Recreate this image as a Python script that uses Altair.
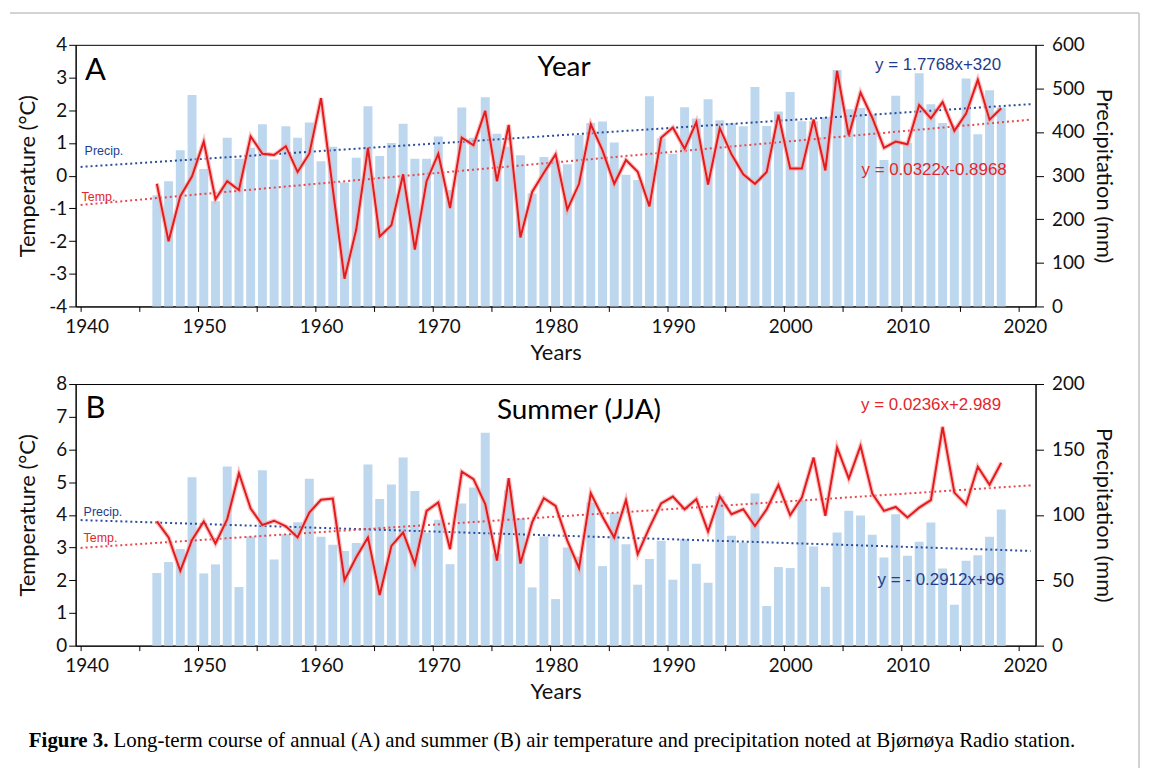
import altair as alt
import pandas as pd

# ---------------- data ----------------
years = list(range(1946, 2019))

precip_annual = [255, 287, 358, 485,
                 315, 241, 387, 339, 364, 418, 337, 413, 387, 422,
                 333, 366, 284, 341, 459, 345, 375, 419, 339, 339,
                 390, 267, 456, 387, 480, 396, 366, 347, 259, 343,
                 335, 326, 393, 421, 424, 376, 302, 290, 482, 386,
                 350, 457, 431, 475, 427, 420, 413, 503, 414, 447,
                 492, 425, 425, 434, 542, 452, 455, 441, 336, 483,
                 375, 535, 464, 421, 410, 523, 395, 496, 456]

temp_annual = [-0.25, -2.01, -0.63, -0.02,
               1.04, -0.72, -0.17, -0.44, 1.20, 0.67, 0.63, 0.90, 0.11, 0.67,
               2.37, -0.40, -3.15, -1.65, 0.85, -1.86, -1.52, 0.04, -2.26, -0.17,
               0.67, -0.99, 1.16, 0.93, 1.98, -0.17, 1.55, -1.89, -0.50, 0.09,
               0.65, -1.04, -0.25, 1.57, 0.77, -0.25, 0.48, 0.12, -0.94, 1.16,
               1.47, 0.82, 1.64, -0.27, 1.45, 0.65, 0.04, -0.25, 0.11, 1.86,
               0.22, 0.22, 1.72, 0.16, 3.20, 1.23, 2.54, 1.77, 0.85, 1.04,
               0.96, 2.16, 1.75, 2.25, 1.37, 1.90, 2.93, 1.71, 2.06]

precip_summer = [55.5, 63.9, 73.8, 128.8,
                 55.2, 62.1, 136.9, 44.8, 83.5, 134.1, 65.9, 85.2, 94.4, 127.5,
                 83.2, 77.1, 72.3, 78.4, 138.4, 112.2, 123.1, 143.8, 118.3, 86.3,
                 96.2, 62.3, 108.6, 120.9, 162.8, 70.5, 118.8, 97.2, 44.5, 83.5,
                 35.6, 75.1, 67.9, 109.4, 60.8, 101.5, 77.6, 46.6, 66.2, 80.2,
                 50.4, 81.4, 62.6, 48.1, 114.2, 84.0, 78.9, 116.3, 30.3, 60.1,
                 59.3, 111.2, 75.8, 45.0, 86.5, 103.1, 99.5, 84.7, 67.4, 100.5,
                 68.7, 79.4, 94.1, 59.0, 31.3, 64.9, 69.2, 83.2, 104.1]

temp_summer = [3.80, 3.31, 2.29, 3.23,
               3.80, 3.12, 3.87, 5.27, 4.19, 3.69, 3.82, 3.65, 3.31, 4.07,
               4.46, 4.50, 2.00, 2.70, 3.31, 1.55, 3.05, 3.46, 2.49, 4.12,
               4.38, 2.95, 5.32, 5.09, 4.33, 2.60, 5.12, 2.51, 3.77, 4.51,
               4.27, 3.21, 2.37, 4.66, 3.94, 3.31, 4.45, 2.80, 3.61, 4.35,
               4.56, 4.17, 4.48, 3.49, 4.56, 4.02, 4.17, 3.66, 4.17, 4.91,
               3.99, 4.53, 5.75, 3.97, 6.06, 5.11, 6.11, 4.65, 4.12, 4.24,
               3.92, 4.22, 4.45, 6.69, 4.68, 4.31, 5.47, 4.92, 5.59]

# trend equations printed on the chart (x counted from the left edge, 1940)
trend_span = [1940, 2021]
annual_precip_trend = (1.7768, 320.0)
annual_temp_trend = (0.0322, -0.8968)
summer_precip_trend = (-0.2912, 96.0)
summer_temp_trend = (0.0236, 2.989)

x_ticks = list(range(1940, 2021, 5))
temp_ticks_a = list(range(-4, 5))
precip_ticks_a = list(range(0, 601, 100))
temp_ticks_b = list(range(0, 9))
precip_ticks_b = list(range(0, 201, 50))

# ---------------- styling ----------------
W, H = 965, 263
BAR = "#BDD7EE"
RED = "#E41A1C"
HALO = "#F4A9A9"
BLUE_TREND = "#2B4C9B"
RED_TREND = "#E8474B"
BLUE_TXT = "#1F3D8C"
RED_TXT = "#E3262B"
FRAME = "#C4C4C4"
SANS = "Lato"
ARIAL = "Liberation Sans"
SERIF = "Liberation Serif"

x_scale = alt.Scale(domain=[1940, 2021], nice=False, zero=False)
x_axis = alt.Axis(title="Years", values=x_ticks, format="d",
                  labelExpr="datum.value % 10 == 0 ? datum.label : ''",
                  tickSize=5, labelPadding=6, labelOffset=6, grid=False,
                  labelFlush=False, labelOverlap=False, titlePadding=6)

dummy = pd.DataFrame({"t": [""]})


def text_layer(txt, x, y, size, color="black", font=SANS, align="center", weight="normal"):
    return alt.Chart(pd.DataFrame({"t": [txt]})).mark_text(
        align=align, baseline="middle", font=font, fontSize=size,
        color=color, fontWeight=weight
    ).encode(x=alt.value(x), y=alt.value(y), text="t:N")


def frame_v(x, y1, y2):
    return alt.Chart(dummy).mark_rule(color=FRAME, strokeWidth=1.5).encode(
        x=alt.value(x), y=alt.value(y1), y2=alt.value(y2))


def frame_h(x1, x2, y):
    return alt.Chart(dummy).mark_rule(color=FRAME, strokeWidth=1.5).encode(
        x=alt.value(x1), x2=alt.value(x2), y=alt.value(y))


def panel(precip, temp, ptrend, ttrend, tdom, tticks, pdom, pticks, texts):
    df = pd.DataFrame({"year": years, "precip": precip, "temp": temp})
    base = alt.Chart(df).transform_calculate(xpos="datum.year + 0.5")
    xenc = alt.X("xpos:Q", scale=x_scale, axis=x_axis)

    p_axis = alt.Axis(orient="right", title="Precipitation (mm)", values=pticks,
                      tickSize=8, labelPadding=8, grid=False,
                      minExtent=50, maxExtent=50, titlePadding=6)
    t_axis = alt.Axis(orient="left", title="Temperature (°C)", values=tticks,
                      tickSize=7, labelPadding=2, grid=False,
                      labelExpr="replace(datum.label, '\u2212', '-')",
                      minExtent=30, maxExtent=30, titlePadding=6)
    penc = alt.Y("precip:Q", scale=alt.Scale(domain=pdom, nice=False, zero=False), axis=p_axis)
    tenc = alt.Y("temp:Q", scale=alt.Scale(domain=tdom, nice=False, zero=False), axis=t_axis)

    bars = base.mark_bar(color=BAR, size=9).encode(x=xenc, y=penc)

    pt = pd.DataFrame({"xpos": trend_span,
                       "precip": [ptrend[0] * (v - 1940) + ptrend[1] for v in trend_span]})
    tt = pd.DataFrame({"xpos": trend_span,
                       "temp": [ttrend[0] * (v - 1940) + ttrend[1] for v in trend_span]})
    ptrend_l = alt.Chart(pt).mark_line(color=BLUE_TREND, strokeWidth=2,
                                       strokeDash=[2, 3]).encode(x=xenc, y=penc)
    ttrend_l = alt.Chart(tt).mark_line(color=RED_TREND, strokeWidth=2,
                                       strokeDash=[2, 3]).encode(x=xenc, y=tenc)
    halo = base.mark_line(color=HALO, strokeWidth=4.5, opacity=0.7).encode(x=xenc, y=tenc)
    line = base.mark_line(color=RED, strokeWidth=2).encode(x=xenc, y=tenc)

    precip_layer = alt.layer(bars, ptrend_l)
    temp_layer = alt.layer(ttrend_l, halo, line)
    return alt.layer(precip_layer, temp_layer, *texts).resolve_scale(
        y="independent").properties(width=W, height=H)


panel_a = panel(precip_annual, temp_annual, annual_precip_trend, annual_temp_trend,
                [-4, 4], temp_ticks_a, [0, 600], precip_ticks_a,
                [text_layer("A", 20, 26, 31),
                 text_layer("Year", 491, 23, 28),
                 text_layer("y = 1.7768x+320", 867, 20, 17, BLUE_TXT, ARIAL),
                 text_layer("y = 0.0322x-0.8968", 863, 126, 17, RED_TXT, ARIAL),
                 text_layer("Precip.", 9, 107, 12.5, BLUE_TXT, ARIAL, "left"),
                 text_layer("Temp.", 6, 153, 12.5, RED_TXT, ARIAL, "left"),
                 frame_h(-66, 1069, -32),
                 frame_v(1069, -32, 727)])

panel_b = panel(precip_summer, temp_summer, summer_precip_trend, summer_temp_trend,
                [0, 8], temp_ticks_b, [0, 200], precip_ticks_b,
                [text_layer("B", 20, 25, 31),
                 text_layer("Summer (JJA)", 506, 27, 28),
                 text_layer("y = 0.0236x+2.989", 860, 21, 17, RED_TXT, ARIAL),
                 text_layer("y = - 0.2912x+96", 870, 197, 17, BLUE_TXT, ARIAL),
                 text_layer("Precip.", 8, 129, 12.5, BLUE_TXT, ARIAL, "left"),
                 text_layer("Temp.", 8, 155, 12.5, RED_TXT, ARIAL, "left")])

caption = alt.layer(
    text_layer("Figure 3.", 33, 18, 21, "black", SERIF, "right", "bold"),
    text_layer("Long-term course of annual (A) and summer (B) air temperature and "
               "precipitation noted at Bjørnøya Radio station.",
               38, 18, 21, "black", SERIF, "left"),
).properties(width=W, height=36, view=alt.ViewBackground(stroke="transparent"))

chart = alt.vconcat(panel_a, panel_b, caption, spacing=78, bounds="flush").properties(
    padding={"left": 0, "top": 1, "right": 0, "bottom": 0},
    background="white"
).configure_view(stroke="black", strokeWidth=1).configure_axis(
    domainColor="black", tickColor="black", labelColor="#111111",
    labelFont=SANS, labelFontSize=19, titleFont=SANS, titleFontSize=22,
    titleFontWeight="normal", titleColor="#111111", domainWidth=1, tickWidth=1
)

chart.save("out.html", embed_options={"renderer": "svg", "actions": False})
